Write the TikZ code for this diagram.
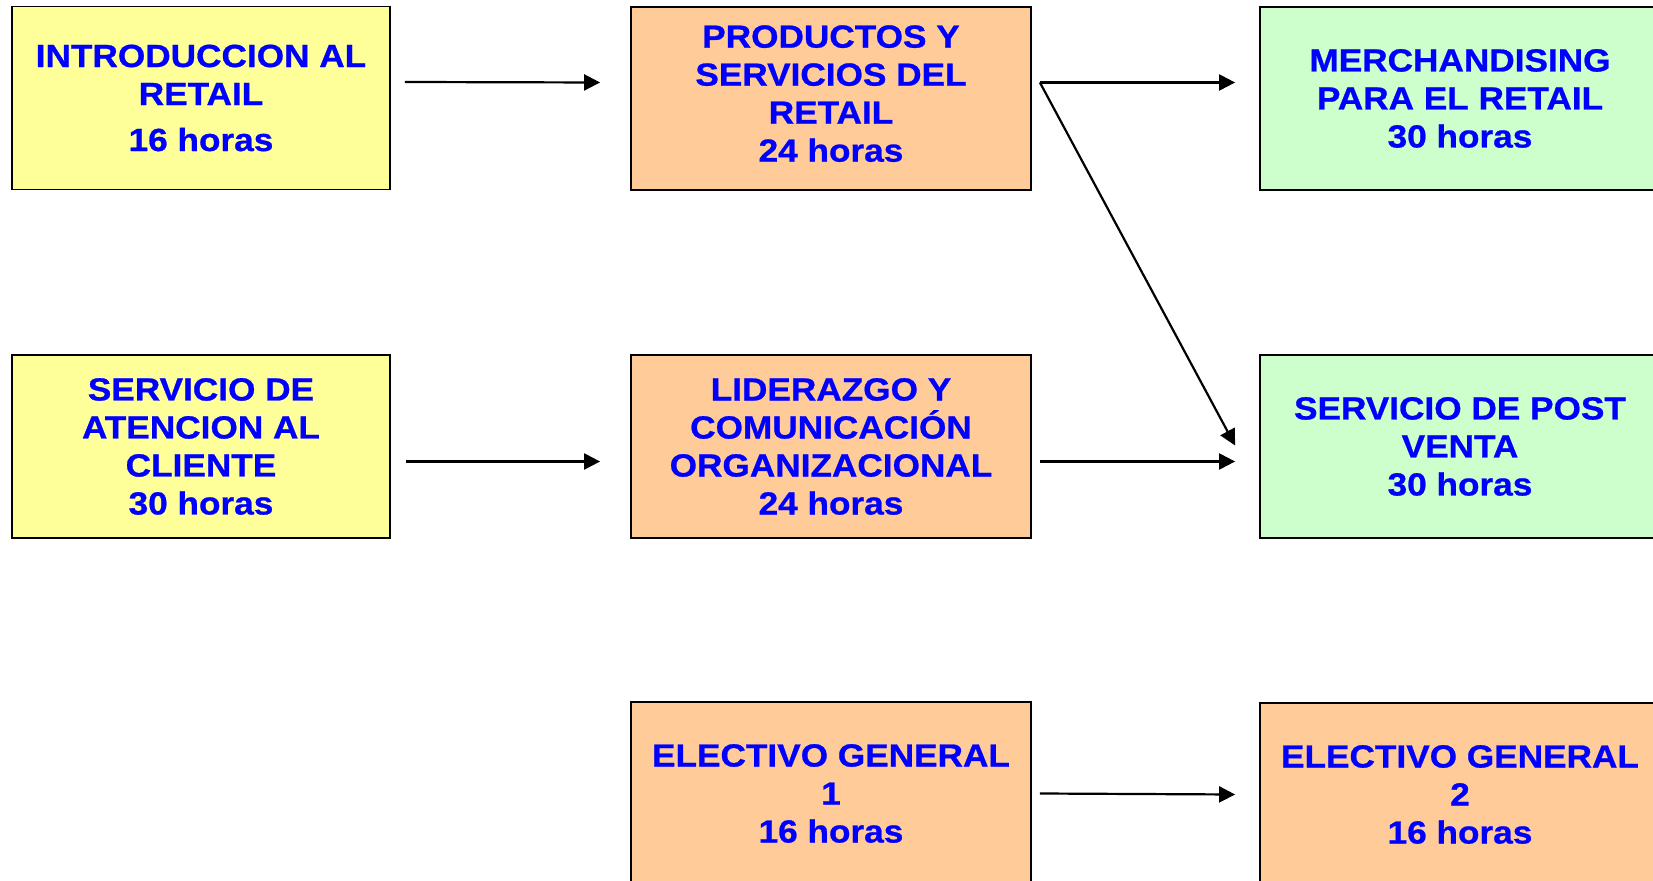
\documentclass[tikz,border=0pt]{standalone}
\usepackage{fontspec}
\setmainfont{Liberation Sans}[FakeStretch=1.1,FakeBold=0.8]
\usetikzlibrary{arrows.meta,calc}
\definecolor{amarillo}{RGB}{255,255,153}
\definecolor{naranja}{RGB}{255,204,153}
\definecolor{verde}{RGB}{204,255,204}
\definecolor{azul}{RGB}{0,0,255}

\begin{document}
\begin{tikzpicture}[x=0.5pt,y=-0.5pt,
	caja/.style={draw=black, line width=0.9pt, inner sep=0pt, align=center, text=azul,
		font=\bfseries\fontsize{16}{19}\selectfont, minimum height=91.5pt},
	chica/.style={caja, minimum width=189pt},
	grande/.style={caja, minimum width=200pt},
	flecha/.style={draw=black, line width=1.1pt, -{Triangle[length=8pt,width=8pt]}}]
	\useasboundingbox (0,0) rectangle (1653,881);
	
	\node[chica, fill=amarillo] (intro) at (201,98){INTRODUCCION AL\\RETAIL\\[4pt]16 horas};
	\node[grande, fill=naranja] (prod) at (831,98.5){PRODUCTOS Y\\SERVICIOS DEL\\RETAIL\\24 horas\\[-14pt]\mbox{}};
	\node[grande, fill=verde] (merch) at (1460,98.5){MERCHANDISING\\PARA EL RETAIL\\30 horas};
	
	\node[chica, fill=amarillo] (aten) at (201,446.5){SERVICIO DE\\ATENCION AL\\CLIENTE\\30 horas};
	\node[grande, fill=naranja] (lider) at (831,446.5){LIDERAZGO Y\\COMUNICACIÓN\\ORGANIZACIONAL\\24 horas};
	\node[grande, fill=verde] (post) at (1460,446.5){SERVICIO DE POST\\VENTA\\30 horas};
	
	\node[grande, fill=naranja] (elec1) at (831,793.5){ELECTIVO GENERAL\\1\\16 horas};
	\node[grande, fill=naranja] (elec2) at (1460,794.5){ELECTIVO GENERAL\\2\\16 horas};
	
	% flechas
	\draw[flecha] ($(intro.east)+(14,-16)$) -- ($(prod.west)+(-30,-16)$);
	\draw[flecha] ($(prod.east)+(8,-16)$) -- ($(merch.west)+(-24,-16)$);
	\draw[flecha] ($(prod.east)+(8,-16)$) -- ($(post.west)+(-24,-1)$);
	\draw[flecha] ($(aten.east)+(15,15)$) -- ($(lider.west)+(-30,15)$);
	\draw[flecha] ($(lider.east)+(8,15)$) -- ($(post.west)+(-24,15)$);
	\draw[flecha] ($(elec1.east)+(8,0)$) -- ($(elec2.west)+(-24,0)$);
\end{tikzpicture}
\end{document}
